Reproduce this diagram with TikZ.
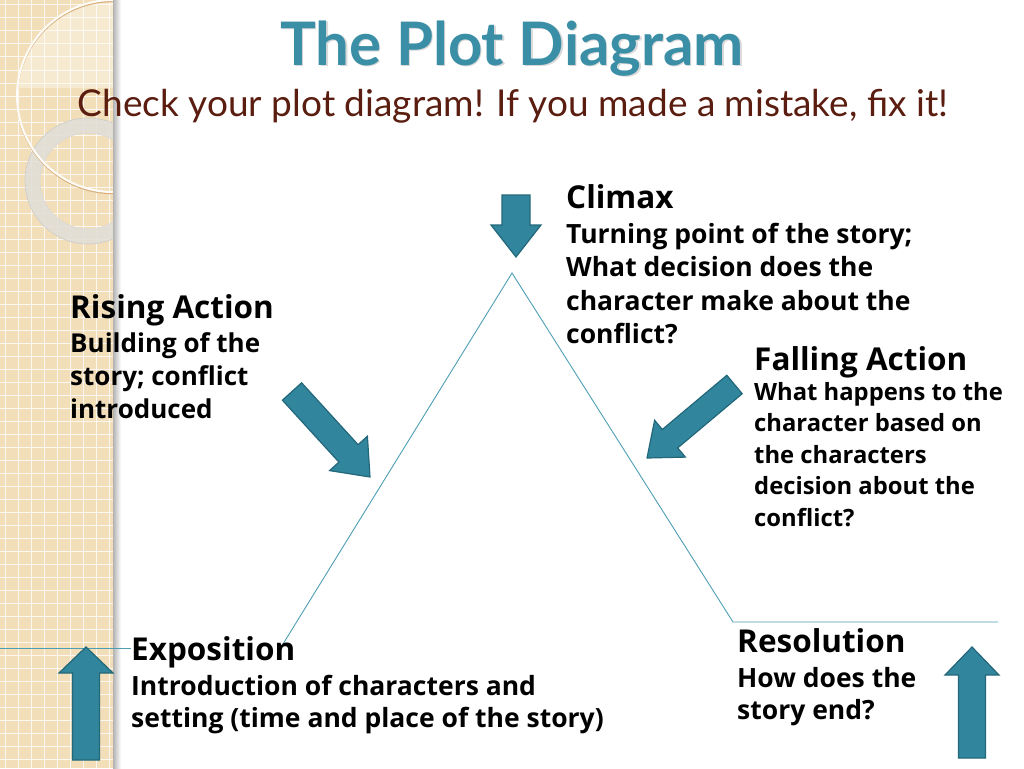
\documentclass[tikz,border=0pt]{standalone}
\usepackage{fontspec}
\setmainfont{Lato}
\newfontfamily\labelfont{Open Sans}
\usetikzlibrary{calc}
\definecolor{arrowfill}{HTML}{31859C}
\definecolor{arrowdraw}{HTML}{23687A}
\definecolor{plotline}{HTML}{4F9FB4}
\definecolor{titleteal}{HTML}{3A8EA6}
\definecolor{subred}{HTML}{5A1D10}
\definecolor{beige}{HTML}{F2DFB9}
\definecolor{ringgrey}{HTML}{E2DED8}
\tikzset{
  barrow/.style={fill=arrowfill, draw=arrowdraw, line width=1.2pt, line join=miter},
  plot/.style={draw=plotline, line width=0.9pt},
  head/.style={anchor=base west, inner sep=0pt, font=\labelfont\fontsize{31.5}{36}\selectfont\bfseries},
  body/.style={anchor=base west, inner sep=0pt, align=left},
}
\begin{document}
\begin{tikzpicture}[x=1pt,y=-1pt]
\useasboundingbox (0,0) rectangle (1024,768);
\fill[white] (0,0) rectangle (1024,768);
% left decorative strip
\begin{scope}
  \clip (0,0) rectangle (113,768);
  \fill[beige] (0,0) rectangle (113,768);
  \foreach \i in {0,...,60} {
    \draw[white, line width=1pt, opacity=0.8] (\i*13+5,0) -- ++(0,768);
    \draw[white, line width=1pt, opacity=0.8] (0,\i*13+5) -- ++(113,0);
  }
  \begin{scope}
    \clip (113,96) circle (95);
    \fill[white, opacity=0.35] (0,0) rectangle (113,88);
  \end{scope}
  \fill[ringgrey, opacity=0.9, even odd rule] (88,181) circle (63) (88,181) circle (48);
  \draw[black!20, line width=0.6pt] (88,181) circle (63);
  \draw[black!15, line width=0.6pt] (88,181) circle (48);
  \draw[brown!50!beige, line width=1.4pt] (113,97.5) circle (96);
  \draw[white!90!beige, line width=2pt] (113,96) circle (96);
\end{scope}
\shade[left color=black!30, right color=white] (113,0) rectangle (121,768);

% title
\node[anchor=base, inner sep=0pt, text=black!15] at (513.5,66.5) {\fontsize{60}{64}\selectfont\bfseries The Plot Diagram};
\node (title) [anchor=base, inner sep=0pt, text=titleteal] at (512,65) {\fontsize{60}{64}\selectfont\bfseries The Plot Diagram};
\node (sub) [anchor=base, inner sep=0pt, text=subred] at (513,116) {\fontsize{37}{42}\selectfont Check your plot diagram! If you made a mistake, fix it!};

% plot line
\coordinate (expL) at (0,648);
\coordinate (expR) at (131,648);
\coordinate (foot) at (283,644);
\coordinate (apex) at (512,273);
\coordinate (rbot) at (733,622);
\coordinate (rend) at (998,622);
\draw[plot] (expL) -- (expR);
\draw[plot] (foot) -- (apex) -- (rbot) -- (rend);

% arrows
\draw[barrow] (502,195) -- (530,195) -- (530,225) -- (541,225) -- (516,257) -- (491,225) -- (502,225) -- cycle;
\draw[barrow] (72.5,760) -- (72.5,673) -- (59,673) -- (86,647) -- (113,673) -- (99.5,673) -- (99.5,760) -- cycle;
\draw[barrow] (958.5,758) -- (958.5,675) -- (945,675) -- (972,647) -- (999,675) -- (985.5,675) -- (985.5,758) -- cycle;
\draw[barrow] (282.4,400.2) -- (338.9,462.1) -- (329.6,470.6) -- (370,477) -- (367.4,436.2) -- (358.1,444.7) -- (301.6,382.8) -- cycle;
\draw[barrow] (726.8,375.3) -- (662.3,429.5) -- (654.6,420.3) -- (647,458) -- (685.4,457.1) -- (677.7,447.9) -- (742.2,393.7) -- cycle;

% labels (body nodes anchored at the baseline of their last line)
\node (climax) [head] at (566,208) {Climax};
\node (climaxb) [body, font=\labelfont\fontsize{26.5}{33.5}\selectfont\bfseries] at (566,343.5) {Turning point of the story;\\What decision does the\\character make about the\\conflict?};

\node (rising) [head] at (70,318) {Rising Action};
\node (risingb) [body, font=\labelfont\fontsize{26}{33}\selectfont\bfseries] at (70,418) {Building of the\\story; conflict\\introduced};

\node (falling) [head] at (754,370) {Falling Action};
\node (fallingb) [body, font=\labelfont\fontsize{23.8}{31.5}\selectfont\bfseries] at (754,526) {What happens to the\\character based on\\the characters\\decision about the\\conflict?};

\node (expo) [head] at (131,660) {Exposition};
\node (expob) [body, font=\labelfont\fontsize{26.5}{32.5}\selectfont\bfseries] at (131,727.5) {Introduction of characters and\\setting (time and place of the story)};

\node (reso) [head] at (737,652) {Resolution};
\node (resob) [body, font=\labelfont\fontsize{26.5}{32}\selectfont\bfseries] at (737,719) {How does the\\story end?};
\end{tikzpicture}
\end{document}
